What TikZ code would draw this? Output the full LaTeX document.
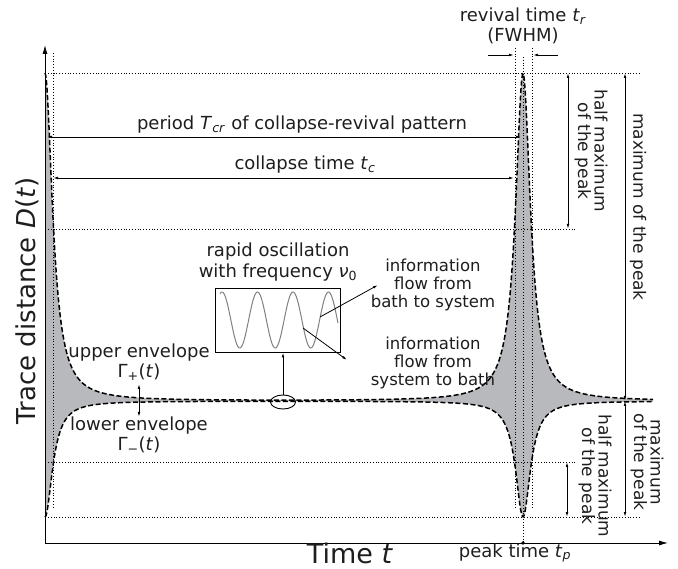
\documentclass[tikz,border=0pt]{standalone}
\usepackage{fontspec}
\setmainfont{DejaVu Sans}
\usetikzlibrary{arrows.meta,shapes.geometric}
\newcommand\lsub[1]{\textsubscript{#1}}
\definecolor{envgray}{RGB}{184,185,189}
\definecolor{txt}{RGB}{30,30,30}
\begin{document}
\begin{tikzpicture}[x=1pt,y=-1pt,
  declare function={f(\t)=1/(1+((\t-45)/9)^2)+1/(1+((\t-523)/9)^2);
                    up(\t)=401-328*f(\t); lo(\t)=401+116*f(\t);},
  lbl/.style={font=\fontsize{18}{20.5}\selectfont, align=center, inner sep=0pt, text=txt},
  infolbl/.style={font=\fontsize{16.5}{18}\selectfont, align=center, inner sep=0pt, text=txt},
  vlbl/.style={font=\fontsize{17}{16.5}\selectfont, align=center, inner sep=0pt, text=txt, rotate=-90},
  biglbl/.style={font=\fontsize{27}{30}\selectfont, inner sep=0pt, text=txt},
  axis/.style={line width=1pt, -{Latex[length=9pt,width=5pt]}},
  dim/.style={line width=0.8pt, {Latex[length=5pt,width=2.6pt]}-{Latex[length=5pt,width=2.6pt]}},
  onearrow/.style={line width=0.8pt, -{Latex[length=5pt,width=2.6pt]}},
  guide/.style={line width=0.8pt, dotted},
  env/.style={line width=1.5pt, dash pattern=on 5pt off 2.5pt},
]
\useasboundingbox (0,0) rectangle (678,569);

% envelopes
\fill[envgray] plot[domain=45:653,samples=700] (\x,{up(\x)}) -- plot[domain=653:45,samples=700] (\x,{lo(\x)}) -- cycle;
\draw[env] plot[domain=45:653,samples=700] (\x,{up(\x)});
\draw[env] plot[domain=45:653,samples=700] (\x,{lo(\x)});

% guide lines
\coordinate (topL) at (48,73);   \coordinate (topR) at (640,73);
\coordinate (hmL) at (48,229);   \coordinate (hmR) at (577,229);
\coordinate (lhmL) at (48,462);  \coordinate (lhmR) at (577,462);
\coordinate (botL) at (48,517);  \coordinate (botR) at (640,517);
\draw[guide] (topL) -- (topR);
\draw[guide] (hmL) -- (hmR);
\draw[guide] (lhmL) -- (lhmR);
\draw[guide] (botL) -- (botR);
\coordinate (v0a) at (53,53);   \coordinate (v0b) at (53,507);
\coordinate (v1a) at (515,48);  \coordinate (v1b) at (515,508);
\coordinate (v2a) at (532,48);  \coordinate (v2b) at (532,508);
\coordinate (vca) at (523,57);  \coordinate (vcb) at (523,543);
\draw[guide] (v0a) -- (v0b);
\draw[guide] (v1a) -- (v1b);
\draw[guide] (v2a) -- (v2b);
\draw[guide] (vca) -- (vcb);

% axes
\coordinate (O) at (45,543);
\coordinate (ytip) at (45,45);
\coordinate (xtip) at (668,543);
\draw[axis] (O) -- (ytip);
\draw[axis] (O) -- (xtip);
\fill (vcb) circle (1.8pt);

% period and collapse time
\coordinate (pL) at (47,137); \coordinate (pR) at (521,137);
\draw[dim] (pL) -- (pR);
\node[lbl] (period) at (302,125) {period \textit{T}\lsub{\textit{cr}} of collapse-revival pattern};
\coordinate (cL) at (53,178); \coordinate (cR) at (514,178);
\draw[dim] (cL) -- (cR);
\node[lbl] (collapse) at (305,165) {collapse time \textit{t}\lsub{\textit{c}}};

% FWHM
\node[lbl] (revival) at (523,16) {revival time \textit{t}\lsub{\textit{r}}};
\node[lbl] (fwhm) at (523,36) {(FWHM)};
\coordinate (fa1) at (488,55); \coordinate (fa2) at (514,55);
\coordinate (fb1) at (558,55); \coordinate (fb2) at (533,55);
\draw[onearrow] (fa1) -- (fa2);
\draw[onearrow] (fb1) -- (fb2);

% right dimension arrows
\coordinate (h1a) at (568,73);  \coordinate (h1b) at (568,229);
\coordinate (m1a) at (625,73);  \coordinate (m1b) at (625,401);
\coordinate (h2a) at (567,462); \coordinate (h2b) at (567,517);
\coordinate (m2a) at (625,401); \coordinate (m2b) at (625,517);
\draw[dim] (h1a) -- (h1b);
\draw[dim] (m1a) -- (m1b);
\draw[dim] (h2a) -- (h2b);
\draw[dim] (m2a) -- (m2b);
\node[vlbl] (hm1) at (591,151) {half maximum\\of the peak};
\node[vlbl] (mx1) at (638,207) {maximum of the peak};
\node[vlbl] (hm2) at (595,476) {half maximum\\of the peak};
\node[vlbl] (mx2) at (647,462) {maximum\\of the peak};

% oscillation inset
\node[draw, line width=0.9pt, minimum width=125pt, minimum height=64pt, inner sep=0pt] (box) at (277.5,320) {};
\draw[gray, line width=1pt] plot[domain=220:338,samples=200] (\x,{320-28*cos(10.1408*(\x-222))});
\node[lbl] (rapid) at (278,262) {rapid oscillation\\with frequency \textit{ν}\lsub{0}};
\node[draw, line width=0.9pt, ellipse, minimum width=25pt, minimum height=14pt, inner sep=0pt] (ell) at (283,402) {};
\draw[onearrow] (ell.north) -- (box.south -| ell.north);
\coordinate (w1) at (320,317); \coordinate (w2) at (303,328);
\node[infolbl] (bath2sys) at (433,285) {information\\flow from\\bath to system};
\node[infolbl] (sys2bath) at (433,363) {information\\flow from\\system to bath};
\coordinate (t1) at (378,285); \coordinate (t2) at (347,360);
\draw[onearrow] (w1) -- (t1);
\draw[onearrow] (w2) -- (t2);

% envelopes labels
\node[lbl] (upper) at (139,362) {upper envelope\\Γ\lsub{+}(\textit{t})};
\node[lbl] (lower) at (139,435) {lower envelope\\Γ\lsub{−}(\textit{t})};
\coordinate (ua) at (139,384); \coordinate (lb) at (139,417);
\draw[dim] (ua) -- (lb);

% axis labels
\node[biglbl, font=\fontsize{26}{30}\selectfont, rotate=90] (ylab) at (27,301) {Trace distance \textit{D}(\textit{t})};
\node[biglbl] (xlab) at (350,553) {Time \textit{t}};
\node[lbl] (peak) at (515,553) {peak time \textit{t}\lsub{\textit{p}}};
\end{tikzpicture}
\end{document}
